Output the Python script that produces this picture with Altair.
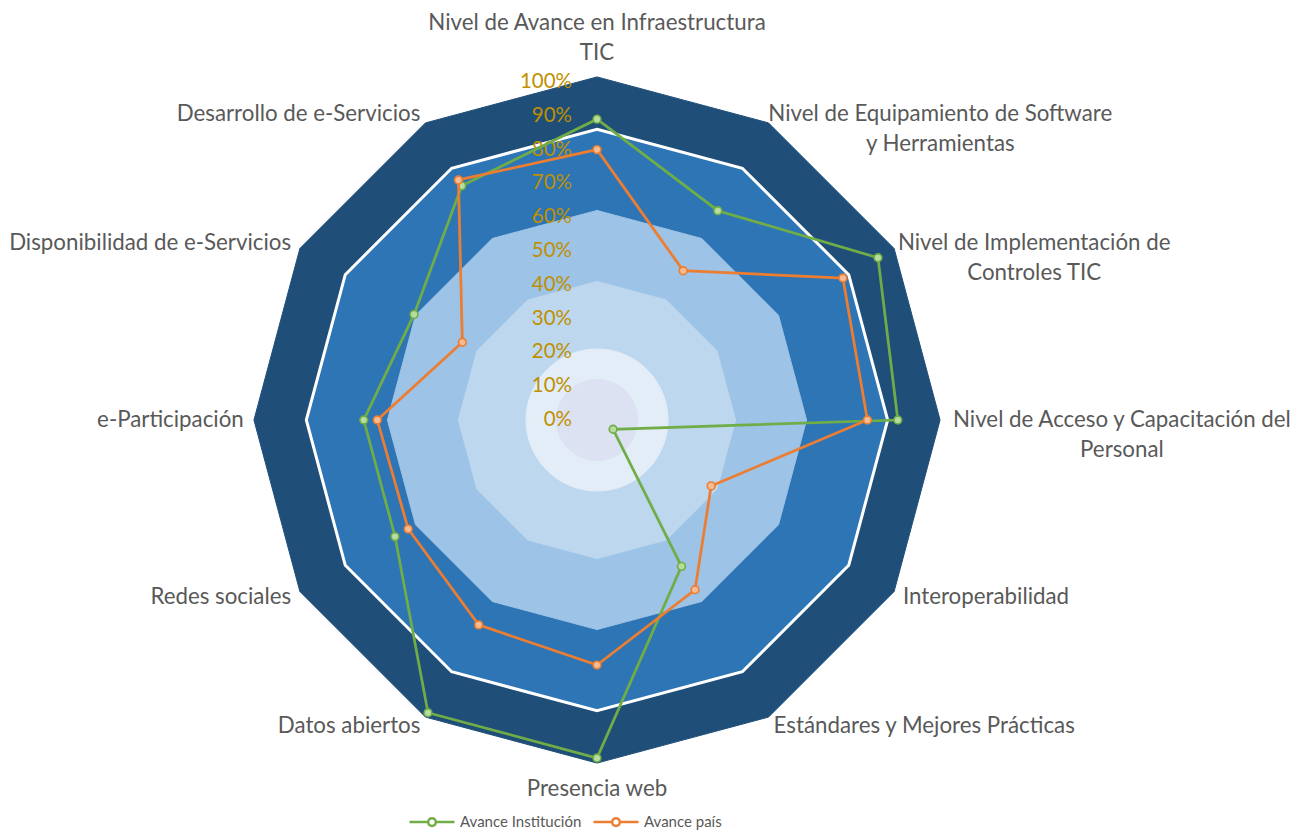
import altair as alt
import pandas as pd

# ---------------- data ----------------
categories = [
    "Nivel de Avance en Infraestructura TIC",
    "Nivel de Equipamiento de Software y Herramientas",
    "Nivel de Implementación de Controles TIC",
    "Nivel de Acceso y Capacitación del Personal",
    "Interoperabilidad",
    "Estándares y Mejores Prácticas",
    "Presencia web",
    "Datos abiertos",
    "Redes sociales",
    "e-Participación",
    "Disponibilidad de e-Servicios",
    "Desarrollo de e-Servicios",
]
label_lines = [
    ["Nivel de Avance en Infraestructura", "TIC"],
    ["Nivel de Equipamiento de Software", "y Herramientas"],
    ["Nivel de Implementación de", "Controles TIC"],
    ["Nivel de Acceso y Capacitación del", "Personal"],
    ["Interoperabilidad"],
    ["Estándares y Mejores Prácticas"],
    ["Presencia web"],
    ["Datos abiertos"],
    ["Redes sociales"],
    ["e-Participación"],
    ["Disponibilidad de e-Servicios"],
    ["Desarrollo de e-Servicios"],
]
avance_institucion = [89, 71.5, 96, 89, 5.5, 50, 100, 100, 69, 69, 62.5, 80]
avance_pais = [80, 51, 84, 80, 39, 58, 72.5, 70, 64.5, 65, 46, 82]

series_names = ["Avance Institución", "Avance país"]
series_colors = ["#70ad47", "#ed7d31"]
marker_fills = ["#b8dc9f", "#f6bb91"]

tick_values = [0, 10, 20, 30, 40, 50, 60, 70, 80, 90, 100]
tick_labels = [f"{v}%" for v in tick_values]

# background bands (outer to inner)
band_levels = [101.5, 86, 62, 41, 21, 12]
band_sides = [12, 12, 12, 12, 72, 72]
band_colors = ["#1f4e79", "#2e75b6", "#9dc3e6", "#bdd7ee", "#e3edf8", "#dce2f1"]
band_strokes = ["#1f4e79", "#ffffff", "#9dc3e6", "#bdd7ee", "#e3edf8", "#dce2f1"]
band_stroke_w = [1, 3, 1, 1, 1, 1]

# ---------------- geometry / style ----------------
PX = 3.38            # pixels per percentage point
W, H = 1283, 824
CX, CY = 589, 412
x_dom = [-CX / PX, (W - CX) / PX]
y_dom = [-(H - CY) / PX, CY / PX]
xs = alt.Scale(domain=x_dom, nice=False, zero=False)
ys = alt.Scale(domain=y_dom, nice=False, zero=False)
X = alt.X("x:Q", scale=xs, axis=None)
Y = alt.Y("y:Q", scale=ys, axis=None)

FONT = "Lato"
TEXT_COLOR = "#595959"
R_LAB = 104.5        # side labels
R_LAB_TOP = 105.0    # top label
R_LAB_BOT = 106.0    # bottom label
LINE_H = 30
CHAR_PX = 10.1
N = len(categories)

# ---------------- tables ----------------
band_rows = []
for i, (lev, sides) in enumerate(zip(band_levels, band_sides)):
    for k in range(sides):
        band_rows.append({"band": i, "k": k, "sides": sides, "r": lev})
band_df = pd.DataFrame(band_rows)

series_rows = []
for s, vals in zip(series_names, [avance_institucion, avance_pais]):
    for k, (c, v) in enumerate(zip(categories, vals)):
        series_rows.append({"series": s, "k": k, "cat": c, "v": v})
series_df = pd.DataFrame(series_rows)

tick_df = pd.DataFrame({"v": tick_values, "label": tick_labels})

lab_rows = []
for k, lines in enumerate(label_lines):
    longest = max(len(t) for t in lines)
    r, yoff = R_LAB, 0.0
    if k == 0:
        align, base, xoff = "center", "bottom", 0.0
        r, yoff = R_LAB_TOP, (len(lines) - 1) * LINE_H / PX
    elif k == N // 2:
        align, base, xoff = "center", "top", 0.0
        r = R_LAB_BOT
    elif len(lines) > 1:
        sign = 1 if k < N // 2 else -1
        align, base, xoff = "center", "middle", sign * longest * CHAR_PX / 2 / PX
    else:
        align = "left" if k < N // 2 else "right"
        base, xoff = "middle", 0.0
    lab_rows.append({"k": k, "text": "\n".join(lines), "align": align,
                     "base": base, "r": r, "xoff": xoff, "yoff": yoff})
lab_df = pd.DataFrame(lab_rows)

# ---------------- layers ----------------
layers = []
for i in range(len(band_levels)):
    layers.append(
        alt.Chart(band_df)
        .transform_filter(f"datum.band == {i}")
        .transform_calculate(
            ang="2*PI*datum.k/datum.sides",
            x="datum.r*sin(datum.ang)",
            y="datum.r*cos(datum.ang)",
        )
        .mark_line(interpolate="linear-closed", fill=band_colors[i],
                   stroke=band_strokes[i], strokeWidth=band_stroke_w[i])
        .encode(x=X, y=Y, order="k:Q")
    )

layers.append(
    alt.Chart(tick_df)
    .transform_calculate(x="0", y="datum.v")
    .mark_text(align="right", baseline="middle", dx=-25, font=FONT,
               fontSize=20.5, color="#bf9000")
    .encode(x=X, y=Y, text="label:N")
)

legend = alt.Legend(
    title=None, orient="none", legendX=400, legendY=790, direction="horizontal",
    symbolType="M-1,0L-0.17,0M0.17,0L1,0M0.17,0A0.17,0.17,0,1,1,-0.17,0A0.17,0.17,0,1,1,0.17,0",
    symbolSize=2025, symbolStrokeWidth=2.5, labelFont=FONT, labelFontSize=15,
    labelColor=TEXT_COLOR, columnPadding=6, labelOffset=4,
)
color_enc = alt.Color("series:N", scale=alt.Scale(domain=series_names, range=series_colors),
                      legend=legend)

for s, col, mf in zip(series_names, series_colors, marker_fills):
    base = (
        alt.Chart(series_df)
        .transform_filter(alt.datum.series == s)
        .transform_calculate(
            ang=f"2*PI*datum.k/{N}",
            x="datum.v*sin(datum.ang)",
            y="datum.v*cos(datum.ang)",
        )
    )
    layers.append(
        base.mark_line(interpolate="linear-closed", strokeWidth=2.75)
        .encode(x=X, y=Y, order="k:Q", color=color_enc)
    )
    layers.append(
        base.mark_point(filled=True, size=60, fill=mf, stroke=col,
                        strokeWidth=1.6, opacity=1)
        .encode(x=X, y=Y)
    )

for (align, bl), grp in lab_df.groupby(["align", "base"]):
    layers.append(
        alt.Chart(grp.reset_index(drop=True))
        .transform_calculate(
            ang=f"2*PI*datum.k/{N}",
            x="datum.r*sin(datum.ang) + datum.xoff",
            y="datum.r*cos(datum.ang) + datum.yoff",
        )
        .mark_text(align=align, baseline=bl, font=FONT, fontSize=22.3,
                   color=TEXT_COLOR, lineBreak="\n", lineHeight=LINE_H)
        .encode(x=X, y=Y, text="text:N")
    )

chart = (
    alt.layer(*layers)
    .properties(width=W, height=H, padding=0,
                autosize=alt.AutoSizeParams(type="none"), background="white")
    .configure_view(stroke=None)
)

chart.save("out.html", embed_options={"renderer": "svg", "actions": False})
